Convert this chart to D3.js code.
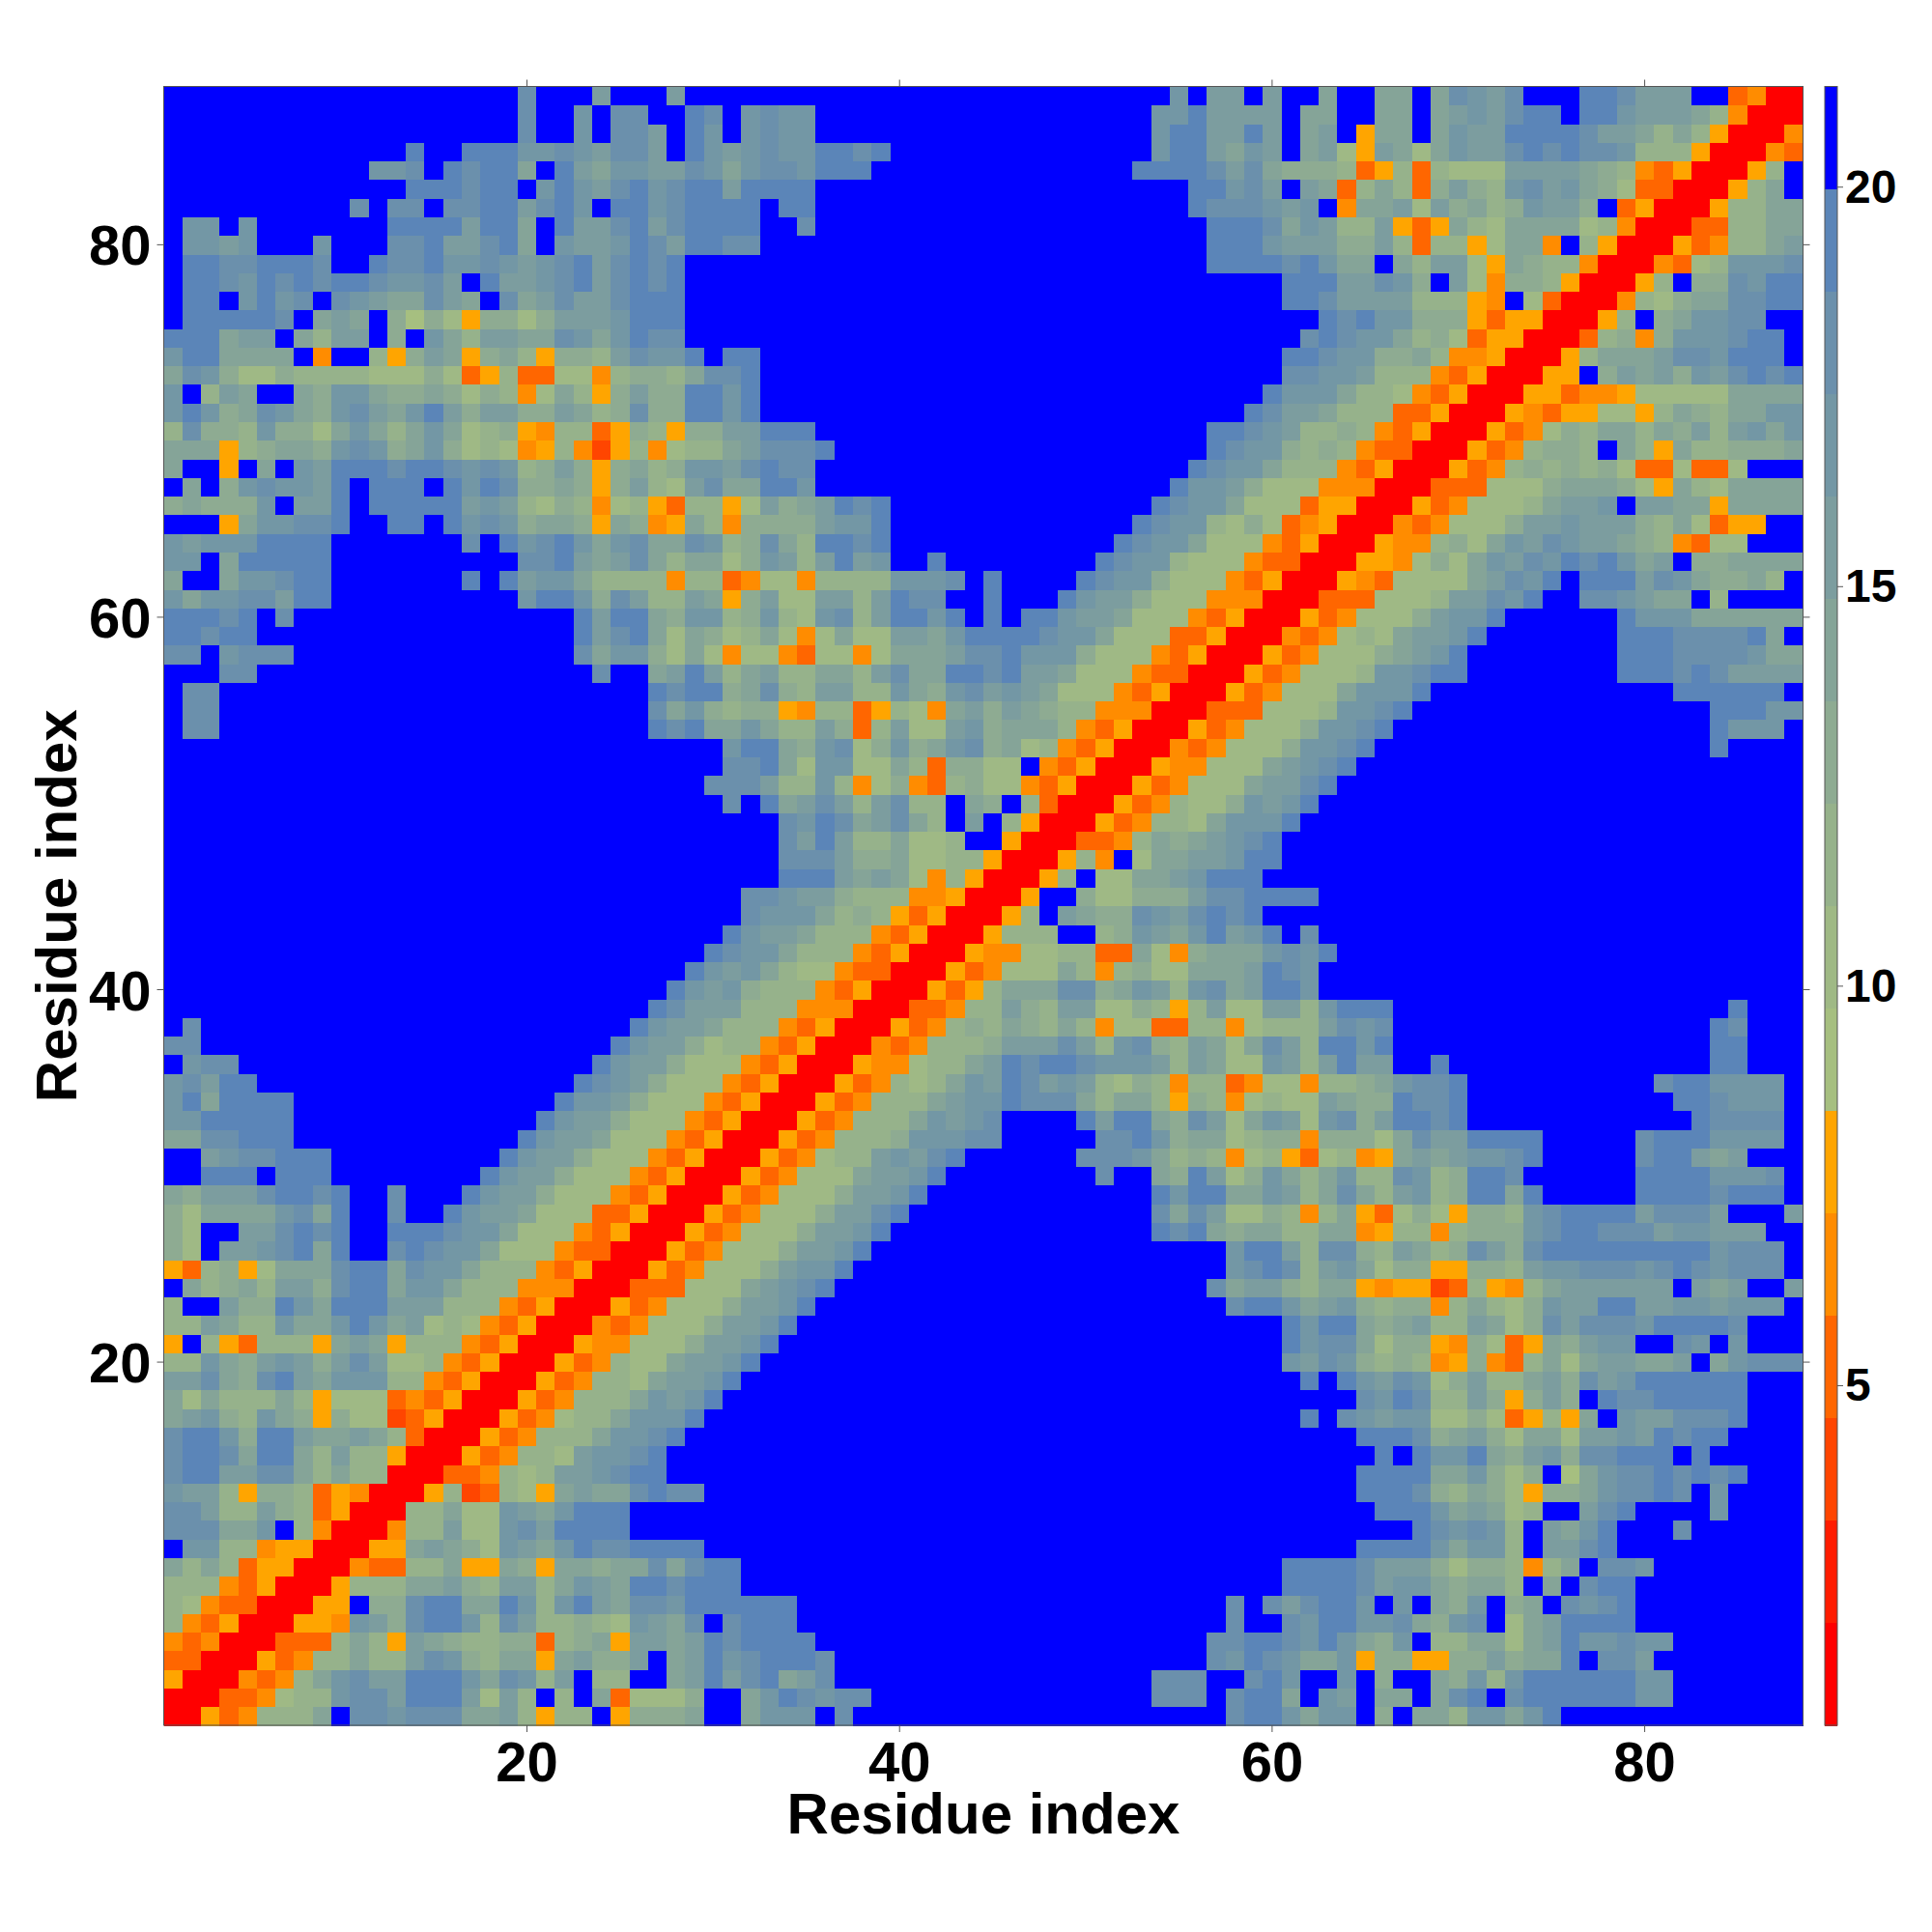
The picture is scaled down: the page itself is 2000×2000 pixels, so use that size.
<!DOCTYPE html>
<html><head><meta charset="utf-8">
<script src="https://cdn.jsdelivr.net/npm/d3@7"></script>
<style>html,body{margin:0;padding:0;background:#fff}svg{display:block}text{font-family:"Liberation Sans",Arial,sans-serif;font-weight:bold;fill:#000}</style>
</head><body><svg id="c" width="2000" height="2000"></svg>
<script>
// Distance band of each cell (hex digit 0-f, F<n> = run of n blue cells), residue rows 88 down to 1.
// Rows 88-58 are complete; rows below hold columns 1..row, the rest is the mirrored matrix.
const rowsHigh=[
"F19 dfffbfffbff F24 cfbbfbf faffaafadcbdfffeedbbbff3400",
"F19 dffcfddffed fcdcc F18 ccebbbbf aaffaafabcbdeefeecbbba84000",
"F19 dffcfddbfec fcdcc F18 ceebbebf abf5aafacbbeeeedbba8a850004",
"F13 effeeeccdcbddbfec bcdcceede F14 ceebacbf ab75ba7acbbdededdc888500043",
"F11 ccdfedeeafebaccbbdc acddceee F14 eeeedbda9 99835838777bbbba98435000 58f",
"F13 eeedeefcecbdecdee beeee F20 eecdbf ba38a839b98cdbca97 33000 58af",
"F10 dfddfddeebdecfeecdee eefee F20 edddcb cf4aab7b9a89cbb9f35000 588aa",
"fccfc F7 eeeebeeafebbdebdee eeffd F21 eeeda cb88b535a87aaaa78 4000 3388aa",
"fccbcfffcfffddebbdeafcbbcedbee dd F24 eeecb bb99b838857aa4f85000 53488ab",
"feeddeeedffeddeccdcbcdebdedeff F26 eeeed ecaafa8bb75a9884000 4378cccd",
"feedcededeedccdbfebbcdebdedeff F30 e eebbdc9fb749985000 58f99dcee",
"feefcecdfdcbaadbafdabdbbdeeeff F30 e edbbbb88854f73000 4879aaddee",
"feeeeedfabaf969759979bbbceeeff F31 fedecc9995355000 58f9accddff",
"eeeabbfa8bbf9fca8bbaadcaceddff F31 dedcca897355000 38949cccdeef",
"ceeaaaaf4ff859ba59a85998bdccef ee F28 e edcc99a8445000 58aaabddceeef",
"adc9779888877797358337748998ad de F28 d dccb888435000 55f9bab9cbdede",
"cf8baffa9cca99a979847a859b99ee ce F27 ec cca887435000553445 77777aaaa",
"cec9adca9cdbaceb9bb99ba89d99ee ce F26 edb ba888335000 54355775 8a98aacc",
"8d998c997aca8aca78954883598599 bbeee F21 eedcb 8898435000 534798aa8a9b8bcac",
"aaa589aa9cdc9ac978745842584788 abddde F20 edcc9 898433000 5348998fa85a88999a",
"aff5fafcbeeedeedcdc89b959a89cc bdedd F20 edcca8 88435000 5348989897337337fff",
"faf9cdccbefeeefeced99a959b87bd aaeec F19 eccb977 7444000333777 9aaa975a87aaaa",
"9a999cfbbefeeeeebcb87984785388 57b9abede F14 edcca777 355000534777 8abbcfbbaa5aaaa",
"fff5accddeffeefecdc9aa95a945a8 49999bcce F13 edcc87973 45000434777 9bbcbbb98a7355ff",
"cbccceeeefffffffdfecdecacdaadc 89da8eede F12 edcca77743 5000544897acbdcbba984377fff",
"ccfaeeeeeffffffffffddebabda8aa 79cb8bebcffe F8 edcc8777433 000554797acbdcedecabf99aaaa",
"affaccdeefffffffefebcca8888488 347748888cccdfe F4 edcc97774350 005437777abdcefeeebdca99a8f",
"caccddbeeffffffffffceec9db88ba 59b77bb8beddffe F3 ecbb977744400 03337778bbdceffddcbaaf8ffff",
"eeedefdfffffffffffffffebeea9cc 89c87cd8beecefefeecbba777435000 5347779bcce F6 ecccaaaaaa",
"eedee F17 ebdea7a9 78a747a77bbaceeeedcca7773350004 34787abbce F7 eeeddddeaf",
"ddfcddd F15 dacc97a7 477437747aaabddeccc977743500053 47779abce F8 eeeddddcaa"
];
const rowsMid=[
"fffdd F18 dffabeb 8ab88aa8bdaaeedebba77743300",
"fdd F23 edee 9ad98bb88ca9cdbcba77743500",
"fdd F23 dac9 899548835874ab9ba98844400",
"fdd F23 edea aca88b938b77bc9aaa843500",
"F30 ceea9cd79c9acd9a7843500",
"F30 ddea7cc77a839977f43500",
"F29 d ddb88c847943897743500",
"F30 dfeabdb8bd88fa9f8300",
"F30 fffdcedabda8fbf8500",
"F30 fffdbeb88a778ff500",
"F30 fffdddb99a7788500",
"F30 fffeeebaba748500",
"F30 fddcbb988844500",
"F30 fdccca89853500",
"F30 ecbba88843500",
"F29 e dcca88843500",
"F28 ec bca87743300",
"F27 ecb c988843500",
"F26 edbb b88844400",
"fd F23 ecbba 88843500",
"dd F22 ecbb97 8843500",
"fcdd F19 ecbb977 743500",
"cdbee F17 edcb9777 43500",
"ceaeeee F14 eccb97774 3500",
"cceeeee F13 ecbb977743 500",
"aaddeee F12 ecbba777435 00",
"ffbcddeee F9 ecbb97774350 0",
"ffeeefeee F8 ecbb977743500"
];
const rowsLow=[
"a9bbbdeedeffdfffecbb977743500",
"97aaaacdaeffdffecbba77733500",
"97ffbbdedeffeeedcca77743500",
"97fbbcdeaeffdedcca77743300",
"538957aaadeeadcca88843500",
"fa89a8bb9deeacca88844400",
"8ffb99ecaeeebbb88843500",
"88ba88caacecab78743500",
"5f8538885aba588843500",
"88ca9bcb9bdb77843500",
"bbda9debaccc8843500",
"a7a888a85777343500",
"abc98ca9597723500",
"deec9eebaaba8300",
"deedaeea8b88500",
"deebbdda8a8800",
"cbb8599835400",
"ddb88b983500",
"dddaacf8400",
"fcc8845500",
"a8a835500",
"88843500",
"8743300",
"843500",
"43400",
"3300",
"500",
"00",
"0"
];
// Colour bar: the sixteen distance bands and the values they span.
const bandColors=["#ff0000","#ff1c00","#ff4500","#ff6600","#ff8c00","#ffa500","#a6bf80","#9fb985","#96b28b","#8eab92","#85a498","#7c9d9f","#7397a5","#6b90ac","#5b85b8","#0000ff"];
const valueDomain=[0.75,21.26];
const axisTicks=[20,40,60,80];
const barTicks=[5,10,15,20];
const axisLabel="Residue index";

const expand=s=>s.replace(/F(\d+)/g,(m,n)=>"f".repeat(+n)).replace(/ /g,"");
const rows=[...rowsHigh,...rowsMid,...rowsLow].map(expand); // rows[0] = residue 88
const N=88;
const band=(col,row)=>{
  const own=rows[N-row];
  if(col-1<own.length) return parseInt(own[col-1],16);
  const other=rows[N-col];
  return row-1<other.length?parseInt(other[row-1],16):15;
};
const bandWidth=(valueDomain[1]-valueDomain[0])/16;
const cells=[];
for(let r=1;r<=N;r++)for(let c=1;c<=N;c++)cells.push({c,r,v:valueDomain[0]+bandWidth*(band(c,r)+.5)});

const L=169.5,R=1866.5,T=89.5,B=1786;
const x=d3.scaleLinear([0.5,88.5],[L,R]);
const y=d3.scaleLinear([0.5,88.5],[B,T]);
const color=d3.scaleQuantize(valueDomain,bandColors);
const svg=d3.select("#c");

svg.append("g").attr("shape-rendering","crispEdges").selectAll("rect").data(cells).join("rect")
 .attr("x",d=>x(d.c-.5)).attr("y",d=>y(d.r+.5))
 .attr("width",x(1.5)-x(.5)+.5).attr("height",y(.5)-y(1.5)+.5)
 .attr("fill",d=>color(d.v));

const tickCol="#555";
const g=svg.append("g").attr("stroke",tickCol).attr("stroke-width",1).attr("fill","none");
g.append("rect").attr("x",L).attr("y",T).attr("width",R-L).attr("height",B-T);
axisTicks.forEach(t=>{
  g.append("line").attr("x1",x(t)).attr("x2",x(t)).attr("y1",B).attr("y2",B+7);
  g.append("line").attr("x1",x(t)).attr("x2",x(t)).attr("y1",T).attr("y2",T-7);
  g.append("line").attr("y1",y(t)).attr("y2",y(t)).attr("x1",L).attr("x2",L-7);
  g.append("line").attr("y1",y(t)).attr("y2",y(t)).attr("x1",R).attr("x2",R+7);
});
axisTicks.forEach(t=>{
  svg.append("text").attr("x",x(t)).attr("y",B+58).attr("text-anchor","middle").attr("font-size",58).text(t);
  svg.append("text").attr("x",L-13).attr("y",y(t)+21).attr("text-anchor","end").attr("font-size",58).text(t);
});
svg.append("text").attr("x",(L+R)/2).attr("y",1898).attr("text-anchor","middle").attr("font-size",60).text(axisLabel);
svg.append("text").attr("transform",`translate(79,${(T+B)/2}) rotate(-90)`).attr("text-anchor","middle").attr("font-size",60).text(axisLabel);

// colour bar
const bx0=1889,bx1=1902;
const by=d3.scaleLinear(valueDomain,[B,T]);
svg.append("g").attr("shape-rendering","crispEdges").selectAll("rect").data(bandColors).join("rect")
 .attr("x",bx0).attr("width",bx1-bx0)
 .attr("y",(d,i)=>by(valueDomain[0]+bandWidth*(i+1)))
 .attr("height",by(0)-by(bandWidth)+.5)
 .attr("fill",d=>d);
svg.append("rect").attr("x",bx0).attr("y",T).attr("width",bx1-bx0).attr("height",B-T).attr("fill","none").attr("stroke",tickCol);
barTicks.forEach(t=>{
  svg.append("line").attr("x1",bx1).attr("x2",bx1+6).attr("y1",by(t)).attr("y2",by(t)).attr("stroke",tickCol);
  svg.append("text").attr("x",1910).attr("y",by(t)+16).attr("font-size",48).text(t);
});
</script></body></html>
